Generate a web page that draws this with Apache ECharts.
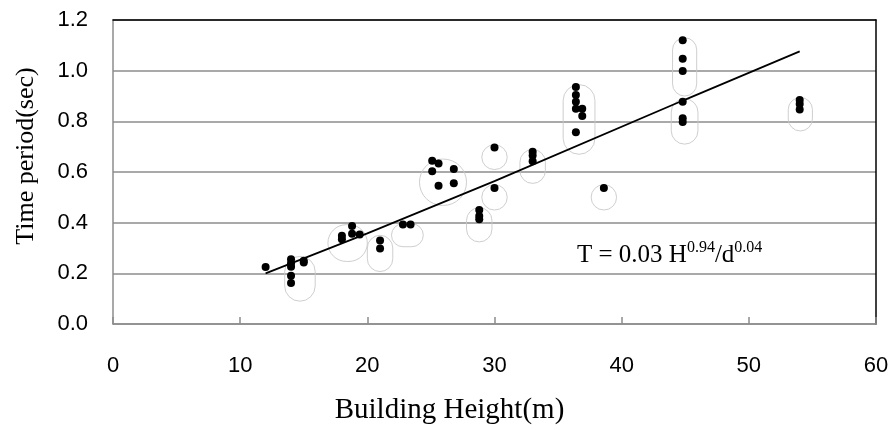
<!DOCTYPE html>
<html>
<head>
<meta charset="utf-8">
<script src="https://cdn.jsdelivr.net/npm/echarts@6/dist/echarts.min.js"></script>
<style>html,body{margin:0;padding:0;background:#fff;}#c{width:892px;height:430px;}</style>
</head>
<body>
<div id="c"></div>
<script>
// Observed points: building height (m) and time period (sec)
const heights = [12, 14, 14, 14, 14, 14, 15, 15, 18, 18, 18.8, 18.8, 19.4, 21, 21, 22.8, 23.4,
  25.1, 25.6, 25.1, 26.8, 25.6, 26.8, 28.8, 28.8, 28.8, 30, 30, 33, 33, 33,
  36.4, 36.4, 36.4, 36.4, 36.9, 36.9, 36.4, 38.6, 44.8, 44.8, 44.8, 44.8, 44.8, 44.8, 54, 54, 54];
const periods = [0.225, 0.256, 0.240, 0.226, 0.19, 0.162, 0.243, 0.25, 0.348, 0.335, 0.387, 0.356, 0.353, 0.33, 0.298, 0.393, 0.393,
  0.644, 0.634, 0.603, 0.612, 0.546, 0.556, 0.45, 0.426, 0.413, 0.697, 0.537, 0.68, 0.665, 0.642,
  0.936, 0.904, 0.877, 0.85, 0.85, 0.821, 0.757, 0.537, 1.12, 1.047, 0.999, 0.877, 0.812, 0.797, 0.884, 0.868, 0.847];

// Fitted trend curve
const trendX = [12, 20, 30, 45, 54];
const trendY = [0.2, 0.358, 0.564, 0.886, 1.076];

// Light cluster outlines: [xMin, xMax, yMin, yMax] in data units
const clusters = [
  [29.0, 31.0, 0.61, 0.707], [29.0, 31.0, 0.45, 0.55], [37.6, 39.6, 0.45, 0.55],
  [32.0, 34.0, 0.555, 0.689], [27.8, 29.8, 0.324, 0.459], [24.1, 27.8, 0.468, 0.651],
  [35.4, 37.9, 0.67, 0.945], [21.9, 24.4, 0.305, 0.396], [20.0, 22.0, 0.207, 0.35],
  [16.9, 20.0, 0.247, 0.392], [13.5, 15.9, 0.09, 0.267], [44.0, 45.9, 0.9, 1.13],
  [43.9, 46.0, 0.71, 0.889], [53.1, 55.0, 0.762, 0.894]
];

const xTicks = [0, 10, 20, 30, 40, 50, 60];
const yTicks = [0, 0.2, 0.4, 0.6, 0.8, 1.0, 1.2];

const chart = echarts.init(document.getElementById('c'));
const sans = 'Liberation Sans';
const serif = 'Liberation Serif';
chart.setOption({
  animation: false,
  grid: {left: 113, right: 16, top: 20, bottom: 104},
  xAxis: [{
    type: 'value', min: xTicks[0], max: xTicks[xTicks.length - 1], interval: 10,
    name: 'Building Height(m)', nameLocation: 'middle', nameGap: 72,
    nameTextStyle: {fontFamily: serif, fontSize: 29, color: '#000', padding: [0, 90, 0, 0]},
    axisLine: {show: true, onZero: false, lineStyle: {color: '#8c8c8c', width: 1.5}},
    axisTick: {show: true, inside: true, length: 7, lineStyle: {color: '#8c8c8c', width: 1.5}},
    axisLabel: {fontFamily: sans, fontSize: 22, color: '#000', margin: 31},
    splitLine: {show: false}
  }, {
    type: 'value', position: 'top', min: 0, max: 60,
    axisLine: {show: true, onZero: false, lineStyle: {color: '#000', width: 1.5}},
    axisTick: {show: false}, axisLabel: {show: false}, splitLine: {show: false}
  }],
  yAxis: [{
    type: 'value', min: yTicks[0], max: yTicks[yTicks.length - 1], interval: 0.2,
    name: 'Time period(sec)', nameLocation: 'middle', nameGap: 74,
    nameTextStyle: {fontFamily: serif, fontSize: 26, color: '#000', padding: [0, 0, 0, 32]},
    axisLine: {show: true, onZero: false, lineStyle: {color: '#8c8c8c', width: 1.5}},
    axisTick: {show: false},
    axisLabel: {fontFamily: sans, fontSize: 22, color: '#000', margin: 25,
      formatter: v => v.toFixed(1)},
    splitLine: {show: true, lineStyle: {color: '#8c8c8c', width: 1.5}}
  }, {
    type: 'value', position: 'right', min: 0, max: 1.2,
    axisLine: {show: true, onZero: false, lineStyle: {color: '#000', width: 1.5}},
    axisTick: {show: false}, axisLabel: {show: false}, splitLine: {show: false}
  }],
  series: [{
    type: 'custom',
    data: clusters,
    encode: {x: [0, 1], y: [2, 3]},
    silent: true, z: 1,
    renderItem: function (params, api) {
      const a = api.coord([api.value(0), api.value(3)]);
      const b = api.coord([api.value(1), api.value(2)]);
      const w = b[0] - a[0], h = b[1] - a[1];
      return {type: 'rect', shape: {x: a[0], y: a[1], width: w, height: h, r: Math.min(w, h) / 2},
        style: {fill: 'none', stroke: '#c8c8c8', lineWidth: 0.9}};
    }
  }, {
    type: 'line',
    data: trendX.map((x, i) => [x, trendY[i]]),
    showSymbol: false, symbol: 'none', z: 3,
    lineStyle: {color: '#000', width: 1.8}
  }, {
    type: 'scatter',
    data: heights.map((h, i) => [h, periods[i]]),
    symbol: 'circle', symbolSize: 8, z: 4,
    itemStyle: {color: '#000', opacity: 1}
  }],
  graphic: [{
    type: 'text', left: 577, top: 240, z: 10,
    style: {
      text: '{a|T = 0.03 H}{s|0.94}{a|/d}{s|0.04}',
      rich: {
        a: {fontFamily: serif, fontSize: 25, lineHeight: 30, fill: '#000', color: '#000'},
        s: {fontFamily: serif, fontSize: 16, lineHeight: 16, verticalAlign: 'top', fill: '#000', color: '#000'}
      }
    }
  }]
});
</script>
</body>
</html>
